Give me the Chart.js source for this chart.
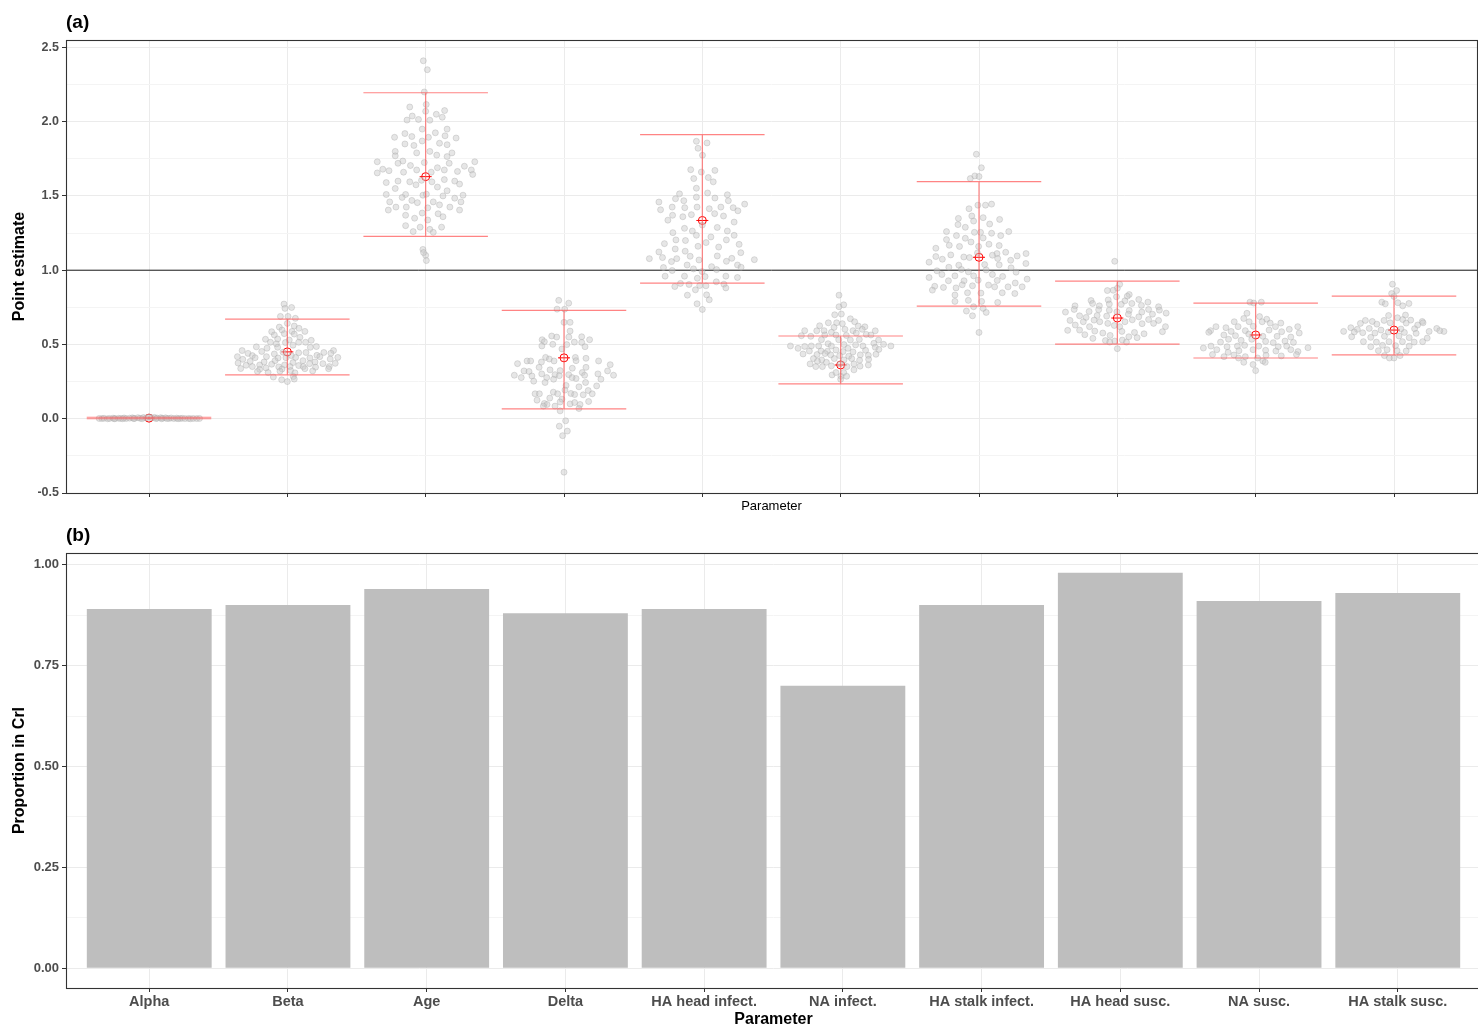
<!DOCTYPE html>
<html>
<head>
<meta charset="utf-8">
<script src="https://cdn.jsdelivr.net/npm/chart.js@4.4.1/dist/chart.umd.min.js"></script>
<style>
  body { margin: 0; overflow: hidden; background: #fff; }
  #boxA { position: absolute; left: 0; top: 0; width: 1484px; height: 520px; }
  #boxB { position: absolute; left: 0; top: 520px; width: 1484px; height: 510px; }
</style>
</head>
<body>
<div id="boxA"><canvas id="estimates"></canvas></div>
<div id="boxB"><canvas id="coverage"></canvas></div>
<script>
const params = ['Alpha', 'Beta', 'Age', 'Delta', 'HA head infect.', 'NA infect.',
                'HA stalk infect.', 'HA head susc.', 'NA susc.', 'HA stalk susc.'];

// panel (a): posterior mean and credible interval per parameter
const meanEst = [0.004, 0.45, 1.63, 0.41, 1.335, 0.362, 1.087, 0.678, 0.564, 0.597];
const lowerCI = [0.0, 0.295, 1.228, 0.067, 0.913, 0.235, 0.758, 0.503, 0.409, 0.43];
const upperCI = [0.01, 0.671, 2.195, 0.73, 1.913, 0.557, 1.597, 0.926, 0.778, 0.825];
const refLine = 1;
const estTicks = [-0.5, 0, 0.5, 1, 1.5, 2, 2.5];

// panel (b): proportion of estimates inside the CrI
const propInCrI = [0.89, 0.90, 0.94, 0.88, 0.89, 0.70, 0.90, 0.98, 0.91, 0.93];
const propTicks = [0, 0.25, 0.5, 0.75, 1];

// point estimates per parameter: [horizontal jitter, value]
const ptsAlpha = [[-0.36,0.002],[-0.34,0.001],[-0.325,0.003],[-0.3,0],[-0.285,0.002],[-0.26,0.004],[-0.245,0.001],[-0.22,0.003],
  [-0.205,0.002],[-0.18,0.005],[-0.165,0.001],[-0.14,0.004],[-0.12,0.006],[-0.105,0.002],[-0.08,0.007],[-0.065,0.003],
  [-0.04,0.008],[-0.02,0.005],[0,0.012],[0.02,0.006],[0.04,0.009],[0.06,0.004],[0.085,0.007],[0.1,0.003],[0.12,0.006],
  [0.145,0.002],[0.16,0.005],[0.18,0.001],[0.2,0.004],[0.225,0.002],[0.24,0.003],[0.26,0.001],[0.285,0.002],[0.3,0],
  [0.32,0.002],[0.345,0.001],[0.365,0.002],[-0.25,0],[-0.11,0.001],[0.09,0],[0.21,0],[-0.05,0],[0.05,0.001],[-0.19,0],[0.13,0.001]];
const ptsBeta = [[-0.024,0.772],[-0.017,0.743],[0.031,0.749],[-0.05,0.689],[0.005,0.689],[0.058,0.676],[0,0.642],[-0.058,0.617],
  [0.05,0.624],[0.084,0.609],[-0.113,0.586],[-0.038,0.597],[0.034,0.588],[0.127,0.588],[-0.094,0.564],[-0.022,0.573],[0.05,0.57],
  [0.091,0.548],[-0.158,0.535],[-0.07,0.537],[0.014,0.53],[0.173,0.528],[-0.122,0.515],[-0.079,0.504],[-0.014,0.513],[0.082,0.515],
  [0.132,0.515],[0.041,0.495],[0.21,0.486],[-0.224,0.484],[-0.147,0.475],[-0.07,0.481],[0.166,0.481],[-0.327,0.459],[-0.185,0.453],
  [-0.031,0.448],[0.082,0.444],[0.135,0.446],[0.334,0.459],[-0.284,0.44],[-0.253,0.425],[-0.151,0.418],[-0.094,0.436],[0.029,0.425],
  [0.214,0.427],[0.264,0.446],[0.315,0.441],[-0.361,0.418],[-0.233,0.411],[-0.067,0.409],[-0.01,0.411],[0.06,0.413],[0.163,0.409],
  [0.235,0.418],[0.365,0.413],[-0.322,0.4],[-0.089,0.391],[0.041,0.378],[0.113,0.391],[0.31,0.402],[-0.356,0.375],[-0.269,0.386],
  [-0.168,0.382],[0.2,0.382],[0.257,0.371],[0.346,0.373],[-0.298,0.36],[-0.2,0.362],[-0.113,0.367],[-0.02,0.362],[0.082,0.358],
  [0.161,0.371],[-0.337,0.338],[-0.253,0.351],[-0.154,0.342],[-0.062,0.349],[0.019,0.351],[0.115,0.351],[0.204,0.347],[0.303,0.351],
  [-0.2,0.333],[-0.038,0.335],[0.127,0.337],[0.298,0.337],[-0.216,0.318],[-0.139,0.311],[-0.053,0.32],[0.024,0.324],[0.055,0.309],
  [0.183,0.322],[-0.101,0.281],[0.043,0.284],[-0.041,0.262],[0,0.25],[0.05,0.267]];
const ptsAge = [[-0.017,2.41],[0.012,2.35],[-0.01,2.2],[0.004,2.116],[-0.115,2.099],[0,2.07],[0.137,2.075],[0.077,2.05],[-0.097,2.038],
  [0.12,2.03],[-0.135,2.011],[-0.052,2.015],[0.03,2.01],[-0.025,1.95],[0.155,1.95],[0.07,1.925],[-0.15,1.92],[-0.225,1.895],[-0.1,1.9],
  [0.02,1.895],[0.14,1.905],[0.22,1.89],[-0.025,1.87],[-0.15,1.85],[-0.085,1.84],[0.1,1.855],[0.155,1.845],[-0.22,1.8],[0.03,1.8],
  [0.19,1.79],[-0.065,1.79],[0.08,1.775],[-0.22,1.77],[0.155,1.765],[-0.35,1.73],[-0.165,1.735],[-0.2,1.72],[-0.01,1.725],[0.17,1.72],
  [0.355,1.73],[-0.11,1.705],[-0.31,1.68],[-0.265,1.67],[-0.35,1.655],[-0.16,1.66],[-0.065,1.675],[0.085,1.69],[0.135,1.675],
  [0.28,1.7],[0.23,1.665],[0.33,1.675],[0.34,1.645],[0.04,1.66],[-0.285,1.59],[-0.2,1.6],[-0.115,1.595],[-0.07,1.575],[-0.03,1.605],
  [0.045,1.595],[0.135,1.61],[0.21,1.6],[0.245,1.58],[-0.22,1.55],[0.085,1.56],[-0.285,1.51],[-0.145,1.51],[-0.02,1.505],[0.005,1.512],
  [-0.17,1.49],[0.125,1.5],[0.155,1.535],[0.27,1.505],[-0.26,1.46],[-0.1,1.47],[-0.06,1.455],[0.055,1.46],[0.1,1.44],[0.21,1.485],
  [0.255,1.46],[-0.27,1.405],[-0.215,1.425],[-0.14,1.425],[0.015,1.42],[0.175,1.425],[0.245,1.405],[-0.145,1.37],[-0.025,1.385],
  [0.09,1.38],[0.125,1.36],[-0.08,1.35],[0.015,1.338],[-0.145,1.3],[-0.04,1.29],[0.115,1.29],[-0.09,1.26],[0.03,1.275],[0.055,1.255],
  [-0.02,1.14],[0,1.1],[-0.015,1.119],[0.005,1.065]];
const ptsDelta = [[-0.038,0.797],[0.034,0.778],[-0.05,0.738],[0.005,0.738],[0,0.649],[0.044,0.649],[0.044,0.59],[-0.089,0.557],
  [-0.053,0.55],[0.035,0.55],[-0.158,0.532],[-0.142,0.519],[0.075,0.516],[0.128,0.552],[0.185,0.532],[0.128,0.514],[-0.16,0.49],
  [-0.081,0.501],[0.02,0.499],[0.152,0.485],[-0.015,0.47],[-0.133,0.413],[-0.106,0.402],[-0.267,0.389],[-0.241,0.389],[-0.336,0.371],
  [-0.163,0.382],[-0.072,0.389],[0.082,0.413],[0.087,0.391],[0.159,0.407],[0.25,0.389],[0.334,0.364],[-0.18,0.346],[-0.101,0.329],
  [-0.028,0.324],[0.06,0.34],[0.159,0.346],[0.315,0.322],[-0.289,0.322],[-0.253,0.318],[-0.359,0.293],[-0.309,0.277],[-0.232,0.288],
  [-0.161,0.302],[-0.125,0.277],[-0.065,0.297],[-0.034,0.29],[0.034,0.297],[0.087,0.271],[0.132,0.311],[0.149,0.293],[0.245,0.302],
  [0.267,0.266],[0.358,0.293],[-0.219,0.253],[-0.137,0.244],[-0.075,0.266],[0.015,0.224],[0.058,0.277],[0.108,0.215],[0.156,0.244],
  [0.236,0.221],[-0.209,0.168],[-0.178,0.168],[-0.077,0.179],[-0.046,0.168],[0.007,0.193],[0.05,0.17],[0.077,0.163],[0.139,0.161],
  [0.175,0.19],[0.204,0.168],[-0.195,0.125],[-0.103,0.139],[-0.015,0.132],[-0.142,0.103],[-0.123,0.096],[-0.065,0.085],[-0.028,0.113],
  [0.044,0.1],[0.077,0.109],[0.116,0.096],[0.178,0.116],[-0.149,0.085],[0.108,0.069],[-0.028,0.053],[0.012,-0.014],[-0.034,-0.05],
  [0.024,-0.083],[-0.01,-0.114],[0,-0.36]];
const ptsHAheadInf = [[-0.043,1.868],[0.034,1.857],[-0.031,1.821],[0.001,1.774],[-0.084,1.677],[-0.007,1.661],[0.091,1.672],
  [-0.062,1.617],[0.043,1.624],[0.079,1.595],[-0.043,1.552],[-0.165,1.514],[0.038,1.52],[0.181,1.508],[-0.194,1.481],[-0.043,1.492],
  [0.091,1.486],[-0.134,1.468],[0.188,1.468],[-0.314,1.459],[0.306,1.445],[-0.218,1.425],[-0.127,1.421],[-0.038,1.425],[0.05,1.414],
  [0.134,1.425],[0.223,1.421],[-0.302,1.407],[0.257,1.4],[-0.215,1.37],[-0.141,1.36],[-0.079,1.374],[0.089,1.381],[0.153,1.365],
  [-0.249,1.337],[0.23,1.324],[0,1.304],[-0.129,1.282],[-0.072,1.264],[0.108,1.288],[-0.213,1.253],[-0.043,1.235],[0.062,1.224],
  [0.181,1.264],[0.23,1.235],[-0.191,1.204],[-0.122,1.2],[0.027,1.186],[0.174,1.204],[-0.274,1.179],[-0.031,1.161],[0.118,1.156],
  [0.266,1.174],[-0.196,1.143],[-0.124,1.128],[0.278,1.118],[-0.314,1.123],[-0.088,1.094],[0.108,1.096],[0.213,1.08],[-0.383,1.078],
  [-0.288,1.085],[-0.185,1.078],[-0.223,1.058],[-0.024,1.069],[0.174,1.06],[0.376,1.071],[-0.11,1.035],[0.067,1.024],[0.254,1.035],
  [0.28,1.02],[-0.281,1.018],[-0.218,0.998],[-0.064,1.009],[0.103,1.004],[-0.002,0.991],[-0.269,0.96],[-0.129,0.96],[-0.036,0.946],
  [0.02,0.957],[0.17,0.96],[0.254,0.951],[-0.158,0.911],[-0.096,0.904],[-0.199,0.89],[-0.019,0.897],[0.101,0.922],[0.156,0.906],
  [0.17,0.881],[0.026,0.895],[-0.05,0.868],[-0.108,0.832],[0.031,0.834],[0.05,0.801],[-0.038,0.774],[0,0.736]];
const ptsNAinf = [[-0.012,0.832],[-0.012,0.754],[0.022,0.767],[-0.043,0.7],[0.005,0.705],[0.07,0.673],[-0.089,0.646],[-0.029,0.646],
  [0.012,0.64],[0.101,0.653],[-0.152,0.626],[-0.048,0.615],[0.031,0.602],[0.127,0.624],[0.175,0.619],[-0.26,0.593],[-0.173,0.592],
  [-0.12,0.593],[-0.067,0.582],[0.089,0.593],[0.156,0.602],[0.25,0.592],[-0.284,0.559],[-0.216,0.555],[-0.115,0.564],[-0.034,0.564],
  [0.041,0.561],[0.113,0.577],[0.185,0.568],[0.219,0.564],[-0.139,0.532],[-0.014,0.532],[0.07,0.53],[0.135,0.534],[0.274,0.53],
  [-0.363,0.49],[-0.308,0.474],[-0.26,0.487],[-0.212,0.49],[-0.159,0.49],[-0.091,0.505],[-0.067,0.49],[0.024,0.499],[0.053,0.474],
  [0.108,0.497],[0.161,0.49],[0.24,0.508],[0.25,0.481],[0.31,0.501],[0.363,0.49],[-0.226,0.456],[-0.142,0.456],[-0.096,0.454],
  [-0.034,0.463],[0.017,0.452],[0.089,0.45],[0.18,0.461],[0.276,0.467],[-0.272,0.436],[-0.171,0.432],[-0.113,0.439],[-0.072,0.43],
  [-0.007,0.425],[0.058,0.421],[0.142,0.43],[0.2,0.427],[0.255,0.434],[-0.197,0.405],[-0.137,0.396],[-0.046,0.405],[0.024,0.396],
  [0.08,0.405],[0.137,0.394],[0.202,0.4],[-0.221,0.369],[-0.168,0.387],[-0.103,0.38],[-0.067,0.356],[0.046,0.351],[0.096,0.369],
  [0.14,0.354],[0.2,0.362],[-0.18,0.351],[-0.132,0.351],[-0.005,0.369],[0.096,0.329],[-0.062,0.295],[-0.034,0.311],[0.002,0.286],
  [0.022,0.311],[0.043,0.286],[0,0.266]];
const ptsHAstalkInf = [[-0.019,1.781],[0.017,1.69],[-0.063,1.617],[-0.03,1.635],[0,1.631],[-0.072,1.414],[-0.008,1.438],[0.047,1.438],
  [0.091,1.445],[-0.149,1.349],[-0.052,1.365],[0.03,1.354],[0.149,1.342],[-0.039,1.331],[-0.152,1.307],[-0.099,1.289],[0.077,1.311],
  [-0.235,1.26],[-0.033,1.255],[0.011,1.255],[0.091,1.249],[0.215,1.26],[-0.163,1.233],[0.157,1.233],[-0.235,1.206],[-0.099,1.215],
  [0.03,1.217],[-0.058,1.19],[0.072,1.175],[-0.215,1.168],[-0.141,1.16],[-0.003,1.16],[0.146,1.166],[-0.312,1.148],[0.193,1.121],
  [-0.204,1.103],[-0.011,1.116],[0.13,1.112],[0.34,1.112],[-0.312,1.092],[-0.265,1.074],[-0.11,1.089],[-0.069,1.085],[0.097,1.101],
  [0.135,1.079],[0.229,1.067],[0.276,1.096],[-0.361,1.054],[-0.218,1.02],[-0.146,1.034],[0.041,1.038],[0.146,1.036],[0.339,1.045],
  [-0.304,0.996],[-0.127,1.005],[-0.077,0.989],[0.052,1.002],[0.232,1.016],[0.268,0.987],[-0.361,0.951],[-0.268,0.971],[-0.174,0.962],
  [-0.039,0.962],[0.097,0.971],[0.171,0.958],[0.348,0.94],[-0.221,0.929],[-0.108,0.929],[-0.006,0.933],[0.132,0.931],[0.262,0.914],
  [-0.32,0.892],[-0.166,0.881],[-0.121,0.902],[-0.047,0.895],[0.069,0.9],[0.113,0.888],[0.21,0.888],[0.312,0.888],[-0.337,0.866],
  [-0.257,0.884],[-0.083,0.848],[0.014,0.846],[0.168,0.848],[0.259,0.843],[-0.174,0.833],[-0.077,0.797],[0.019,0.79],[-0.174,0.79],
  [0.135,0.783],[-0.039,0.754],[0.03,0.743],[-0.091,0.725],[0.052,0.716],[-0.047,0.693],[0,0.581]];
const ptsHAheadSus = [[-0.019,1.06],[0.017,0.905],[0,0.879],[-0.03,0.865],[-0.072,0.863],[0.086,0.836],[-0.006,0.821],[0.072,0.825],
  [-0.19,0.796],[-0.066,0.8],[0.055,0.794],[0.155,0.803],[0.221,0.785],[-0.306,0.76],[-0.179,0.776],[-0.13,0.76],[-0.058,0.772],
  [0.028,0.77],[0.105,0.776],[0.174,0.763],[0.298,0.754],[-0.375,0.718],[-0.312,0.736],[-0.204,0.722],[-0.135,0.734],[-0.058,0.731],
  [-0.003,0.72],[0.086,0.729],[0.177,0.718],[0.226,0.736],[0.304,0.731],[-0.273,0.693],[-0.226,0.682],[-0.146,0.695],[-0.077,0.691],
  [0.08,0.704],[0.155,0.686],[0.254,0.704],[0.353,0.711],[-0.342,0.662],[-0.246,0.653],[-0.168,0.664],[-0.127,0.653],[0.055,0.653],
  [0.108,0.666],[0.226,0.668],[0.298,0.662],[-0.304,0.631],[-0.201,0.62],[-0.069,0.642],[-0.022,0.628],[0.017,0.62],[0.179,0.64],
  [0.262,0.642],[0.348,0.62],[-0.359,0.595],[-0.273,0.597],[-0.163,0.59],[-0.105,0.577],[0.033,0.588],[0.124,0.581],[0.193,0.572],
  [0.326,0.586],[-0.235,0.566],[-0.052,0.561],[0.083,0.552],[0.143,0.546],[-0.177,0.541],[-0.086,0.526],[-0.019,0.523],[0.036,0.53],
  [0.066,0.516],[-0.055,0.516],[0,0.472]];
const ptsNAsus = [[-0.041,0.785],[0.041,0.785],[-0.014,0.779],[-0.063,0.71],[-0.086,0.675],[0.028,0.688],[0.08,0.67],[-0.155,0.653],
  [-0.047,0.653],[0.047,0.653],[0.105,0.644],[0.182,0.644],[-0.287,0.62],[-0.215,0.613],[-0.127,0.62],[-0.017,0.622],[0.143,0.62],
  [0.304,0.62],[-0.326,0.593],[-0.177,0.588],[-0.075,0.593],[0.097,0.597],[0.188,0.586],[0.243,0.602],[0.315,0.577],[-0.339,0.582],
  [-0.23,0.564],[-0.146,0.559],[-0.05,0.57],[0.052,0.555],[0.155,0.555],[0.254,0.55],[-0.254,0.516],[-0.196,0.535],[-0.105,0.528],
  [-0.028,0.535],[0.072,0.521],[0.127,0.512],[0.212,0.523],[0.273,0.514],[-0.378,0.476],[-0.323,0.489],[-0.207,0.485],[-0.132,0.489],
  [-0.08,0.494],[0.022,0.489],[0.163,0.485],[0.224,0.489],[0.378,0.478],[-0.281,0.465],[-0.199,0.447],[-0.121,0.458],[-0.019,0.465],
  [0.072,0.461],[0.146,0.456],[0.254,0.465],[0.306,0.452],[-0.312,0.432],[-0.229,0.418],[-0.157,0.429],[-0.075,0.418],[0.075,0.427],
  [0.185,0.423],[0.295,0.432],[-0.124,0.409],[0.014,0.409],[-0.086,0.38],[0.052,0.389],[0.069,0.38],[-0.019,0.365],[0,0.324]];
const ptsHAstalkSus = [[-0.011,0.906],[0.019,0.863],[-0.017,0.843],[0,0.823],[-0.088,0.785],[-0.063,0.774],[0.028,0.781],[0.108,0.776],
  [0.063,0.76],[-0.039,0.695],[0.083,0.698],[0.025,0.68],[-0.207,0.662],[-0.157,0.655],[-0.072,0.662],[0.063,0.668],[0.121,0.664],
  [0.204,0.655],[-0.243,0.642],[-0.124,0.637],[-0.028,0.646],[0.088,0.644],[0.171,0.631],[0.21,0.646],[-0.312,0.613],[-0.265,0.602],
  [-0.179,0.608],[-0.094,0.597],[0.05,0.604],[0.149,0.606],[0.309,0.608],[-0.364,0.588],[-0.287,0.584],[-0.226,0.579],[-0.138,0.577],
  [-0.041,0.584],[0.075,0.581],[0.16,0.575],[0.254,0.588],[0.361,0.588],[0.331,0.593],[-0.306,0.552],[-0.168,0.548],[-0.069,0.555],
  [0.036,0.557],[0.11,0.546],[0.24,0.543],[-0.221,0.519],[-0.127,0.516],[-0.036,0.519],[0.061,0.519],[0.146,0.516],[0.207,0.519],
  [-0.168,0.485],[-0.083,0.494],[0.011,0.492],[0.11,0.489],[-0.113,0.458],[-0.05,0.465],[0.022,0.458],[0.088,0.456],[-0.069,0.425],
  [-0.033,0.409],[0,0.409],[0.044,0.425]];
const ptsByParam = [ptsAlpha, ptsBeta, ptsAge, ptsDelta, ptsHAheadInf, ptsNAinf,
                    ptsHAstalkInf, ptsHAheadSus, ptsNAsus, ptsHAstalkSus];

const fontFam = '"Liberation Sans", Arial, sans-serif';
const barHalf = 0.45;

function withMinor(major) {
    let out = [];
    for (let i = 0; i < major.length; i++) {
        out.push(major[i]);
        if (i < major.length - 1) out.push((major[i] + major[i + 1]) / 2);
    }
    return out;
}
function isMajor(v, major) {
    return major.some(m => Math.abs(m - v) < 1e-9);
}
function panelFrame(label) {
    return {
        id: 'frame' + label,
        afterDraw(chart) {
            const ctx = chart.ctx, a = chart.chartArea;
            ctx.save();
            ctx.strokeStyle = '#333333';
            ctx.lineWidth = 1.1;
            ctx.strokeRect(a.left + 0.5, a.top + 0.5, a.right - a.left, a.bottom - a.top);
            ctx.fillStyle = '#000';
            ctx.font = 'bold 19px ' + fontFam;
            ctx.textAlign = 'left';
            ctx.textBaseline = 'bottom';
            ctx.fillText(label, a.left, a.top - 8);
            ctx.restore();
        }
    };
}

const estExtras = {
    id: 'estExtras',
    beforeDatasetsDraw(chart) {
        const ctx = chart.ctx, a = chart.chartArea;
        const y = chart.scales.y.getPixelForValue(refLine);
        ctx.save();
        ctx.strokeStyle = '#1a1a1a';
        ctx.lineWidth = 1;
        ctx.beginPath();
        ctx.moveTo(a.left, y);
        ctx.lineTo(a.right, y);
        ctx.stroke();
        ctx.restore();
    },
    afterDatasetDraw(chart, args) {
        if (args.index !== 0) return;
        const ctx = chart.ctx, xs = chart.scales.x, ys = chart.scales.y;
        ctx.save();
        ctx.strokeStyle = 'rgba(255,80,80,0.7)';
        ctx.lineWidth = 1.2;
        params.forEach(function (p, i) {
            const xc = xs.getPixelForValue(i + 1);
            const xl = xs.getPixelForValue(i + 1 - barHalf);
            const xr = xs.getPixelForValue(i + 1 + barHalf);
            const yl = ys.getPixelForValue(lowerCI[i]);
            const yu = ys.getPixelForValue(upperCI[i]);
            ctx.beginPath();
            ctx.moveTo(xl, yu); ctx.lineTo(xr, yu);
            ctx.moveTo(xl, yl); ctx.lineTo(xr, yl);
            ctx.moveTo(xc, yl); ctx.lineTo(xc, yu);
            ctx.stroke();
        });
        ctx.restore();
    }
};

let points = [];
ptsByParam.forEach(function (list, i) {
    list.forEach(function (pt) {
        points.push({ x: i + 1 + pt[0], y: pt[1] });
    });
});
const means = meanEst.map((m, i) => ({ x: i + 1, y: m }));
const estTickList = withMinor(estTicks);
const propTickList = withMinor(propTicks);

new Chart(document.getElementById('estimates'), {
    type: 'scatter',
    data: {
        datasets: [{
            data: points,
            pointRadius: 3,
            pointBackgroundColor: 'rgba(200,200,200,0.45)',
            pointBorderColor: 'rgba(165,165,165,0.45)',
            pointBorderWidth: 0.8
        }, {
            data: means,
            pointStyle: 'circle',
            pointRadius: 4,
            pointBackgroundColor: 'rgba(255,0,0,0)',
            pointBorderColor: '#ff0000',
            pointBorderWidth: 1
        }, {
            data: means,
            pointStyle: 'line',
            pointRadius: 6,
            pointBorderColor: '#ff0000',
            pointBorderWidth: 1
        }]
    },
    options: {
        responsive: true,
        maintainAspectRatio: false,
        animation: false,
        layout: { padding: { top: 40, right: 3, left: 0, bottom: 0 } },
        plugins: { legend: { display: false }, tooltip: { enabled: false } },
        scales: {
            x: {
                type: 'linear', min: 0.4, max: 10.6,
                afterBuildTicks: s => { s.ticks = params.map((p, i) => ({ value: i + 1 })); },
                afterFit: s => { s.height = 27; },
                ticks: { display: false },
                grid: { color: '#ebebeb', tickColor: '#333333', tickLength: 4 },
                border: { display: false },
                title: {
                    display: true, text: 'Parameter', color: '#000',
                    font: { family: fontFam, size: 13 }, padding: { top: 0, bottom: 6 }
                }
            },
            y: {
                min: -0.5, max: 2.55,
                afterBuildTicks: s => { s.ticks = estTickList.map(v => ({ value: v })); },
                afterFit: s => { s.width = 66; },
                ticks: {
                    callback: v => isMajor(v, estTicks) ? v.toFixed(1) : '',
                    color: '#4d4d4d', padding: 3,
                    font: { family: fontFam, size: 12.5, weight: 'bold' }
                },
                grid: {
                    color: c => isMajor(c.tick.value, estTicks) ? '#ebebeb' : '#f4f4f4',
                    tickColor: c => isMajor(c.tick.value, estTicks) ? '#333333' : 'rgba(0,0,0,0)',
                    tickLength: 4
                },
                border: { display: false },
                title: {
                    display: true, text: 'Point estimate', color: '#000',
                    font: { family: fontFam, size: 16, weight: 'bold' }, padding: { top: 10, bottom: 0 }
                }
            }
        }
    },
    plugins: [estExtras, panelFrame('(a)')]
});

new Chart(document.getElementById('coverage'), {
    type: 'bar',
    data: {
        datasets: [{
            data: propInCrI.map((v, i) => ({ x: i + 1, y: v })),
            backgroundColor: '#bebebe',
            borderWidth: 0,
            barPercentage: 0.9,
            categoryPercentage: 1
        }]
    },
    options: {
        responsive: true,
        maintainAspectRatio: false,
        animation: false,
        layout: { padding: { top: 33, right: 3, left: 0, bottom: 0 } },
        plugins: { legend: { display: false }, tooltip: { enabled: false } },
        scales: {
            x: {
                type: 'linear', min: 0.4, max: 10.6, offset: false,
                afterBuildTicks: s => { s.ticks = params.map((p, i) => ({ value: i + 1 })); },
                afterFit: s => { s.height = 42; },
                ticks: {
                    callback: v => params[Math.round(v) - 1],
                    color: '#4d4d4d', padding: 1, maxRotation: 0, autoSkip: false,
                    font: { family: fontFam, size: 14.5, weight: 'bold' }
                },
                grid: { offset: false, color: '#ebebeb', tickColor: '#333333', tickLength: 4 },
                border: { display: false },
                title: {
                    display: true, text: 'Parameter', color: '#000',
                    font: { family: fontFam, size: 16, weight: 'bold' }, padding: { top: 0, bottom: 1 }
                }
            },
            y: {
                min: -0.049, max: 1.029,
                afterBuildTicks: s => { s.ticks = propTickList.map(v => ({ value: v })); },
                afterFit: s => { s.width = 66; },
                ticks: {
                    callback: v => isMajor(v, propTicks) ? v.toFixed(2) : '',
                    color: '#4d4d4d', padding: 3,
                    font: { family: fontFam, size: 13, weight: 'bold' }
                },
                grid: {
                    color: c => isMajor(c.tick.value, propTicks) ? '#ebebeb' : '#f4f4f4',
                    tickColor: c => isMajor(c.tick.value, propTicks) ? '#333333' : 'rgba(0,0,0,0)',
                    tickLength: 4
                },
                border: { display: false },
                title: {
                    display: true, text: 'Proportion in CrI', color: '#000',
                    font: { family: fontFam, size: 16, weight: 'bold' }, padding: { top: 10, bottom: 0 }
                }
            }
        }
    },
    plugins: [panelFrame('(b)')]
});
</script>
</body>
</html>
